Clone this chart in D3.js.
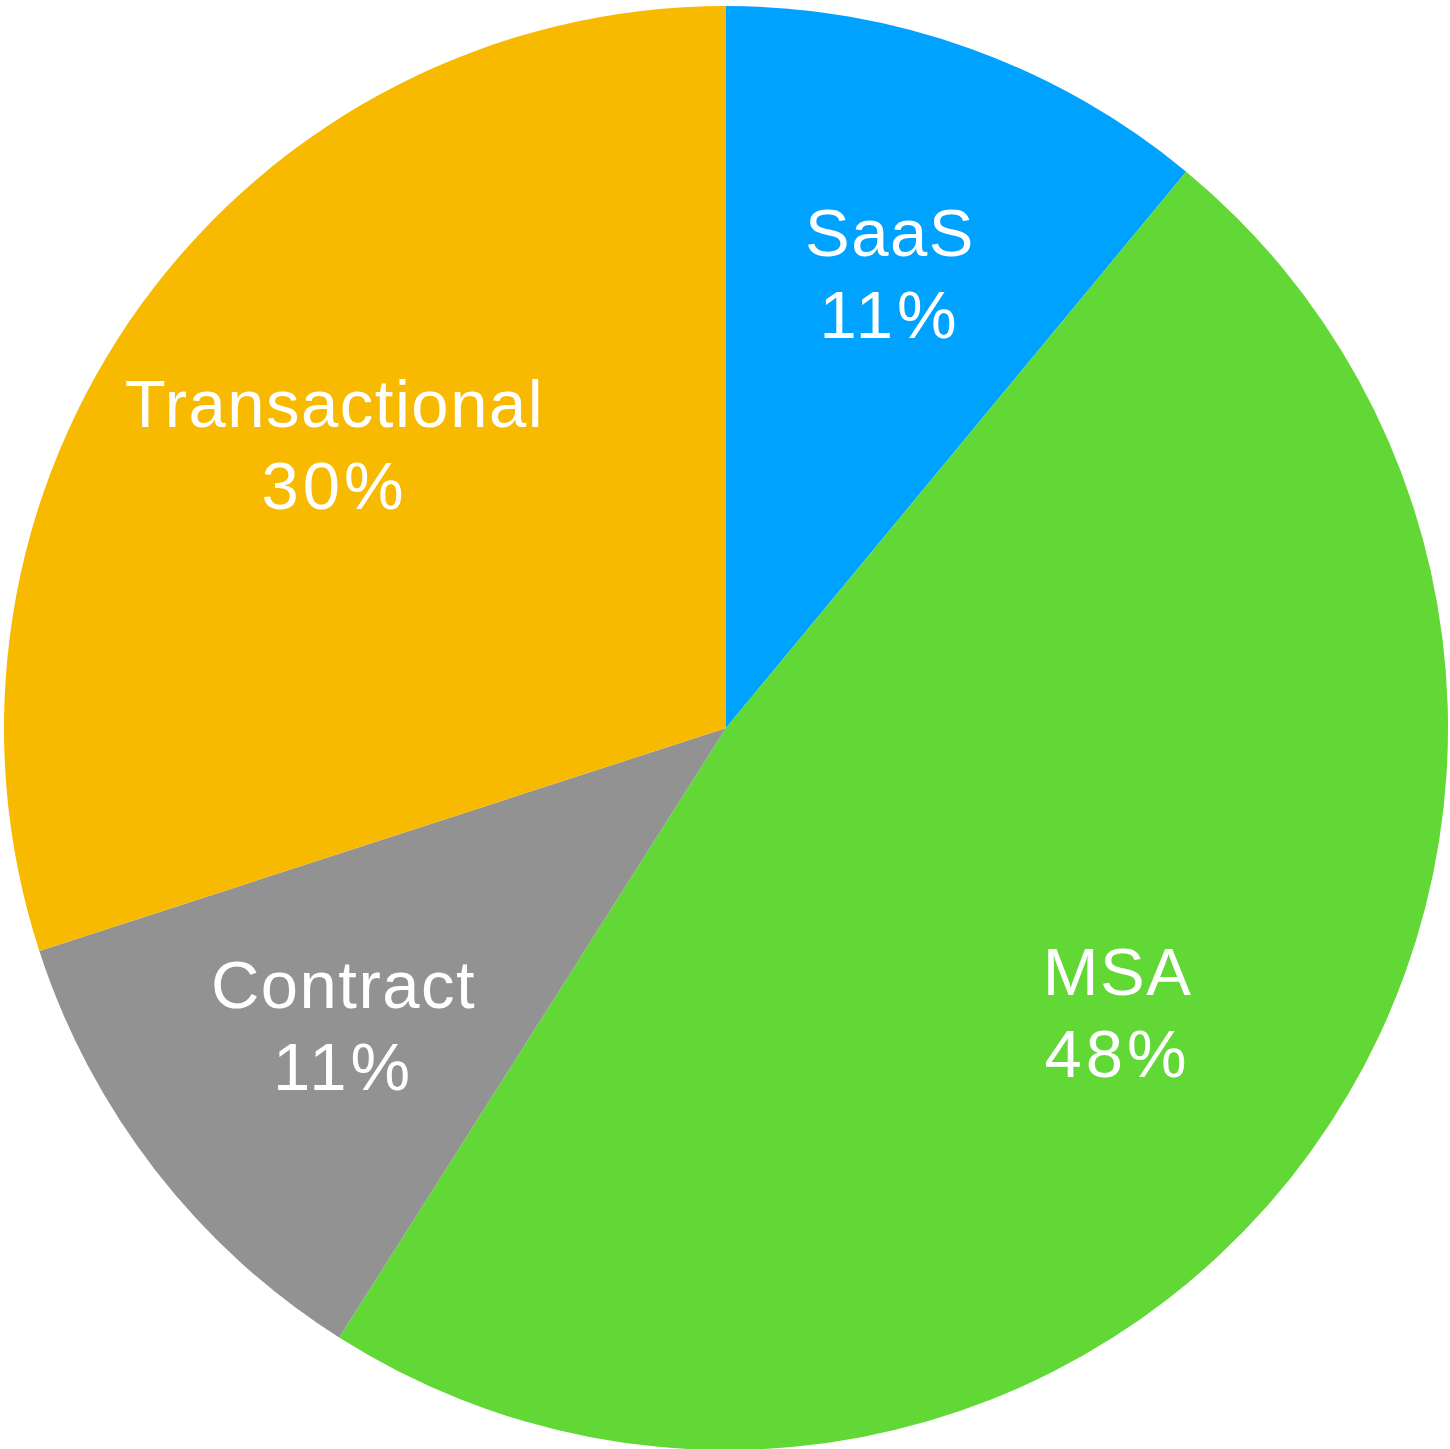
<!DOCTYPE html>
<html>
<head>
<meta charset="utf-8">
<script src="https://cdn.jsdelivr.net/npm/d3@7"></script>
<style>
  html, body { margin: 0; padding: 0; background: #fff; }
  svg { display: block; }
</style>
</head>
<body>
<svg width="1450" height="1449"></svg>
<script>
// slice data, clockwise from 12 o'clock
const categories = ["SaaS", "MSA", "Contract", "Transactional"];
const values = [11, 48, 11, 30];
const colors = ["#00A2FF", "#61D836", "#929292", "#F8BA00"];

const svg = d3.select("svg");
const cx = 726, cy = 728, radius = 722;
const labelRadius = 484;

const g = svg.append("g").attr("transform", `translate(${cx},${cy})`);

const data = categories.map((c, i) => ({ name: c, value: values[i], color: colors[i] }));

const pie = d3.pie().sort(null).value(d => d.value);
const arc = d3.arc().innerRadius(0).outerRadius(radius);
const labelArc = d3.arc().innerRadius(labelRadius).outerRadius(labelRadius);

const arcs = pie(data);

// slices
g.selectAll("path.slice")
  .data(arcs)
  .enter()
  .append("path")
  .attr("class", "slice")
  .attr("d", arc)
  .attr("fill", d => d.data.color);

// labels: name + percent, centred on the slice
const labels = g.selectAll("text.label")
  .data(arcs)
  .enter()
  .append("text")
  .attr("class", "label")
  .attr("transform", d => `translate(${labelArc.centroid(d)})`)
  .attr("text-anchor", "middle")
  .attr("fill", "#fff")
  .style("font-family", "'Liberation Sans', Arial, sans-serif")
  .style("font-size", "67px");

labels.append("tspan")
  .attr("x", 0)
  .attr("y", -17)
  .style("letter-spacing", "1.5px")
  .text(d => d.data.name);

labels.append("tspan")
  .attr("x", 0)
  .attr("y", 65)
  .style("letter-spacing", "4px")
  .text(d => d.data.value + "%");
</script>
</body>
</html>
